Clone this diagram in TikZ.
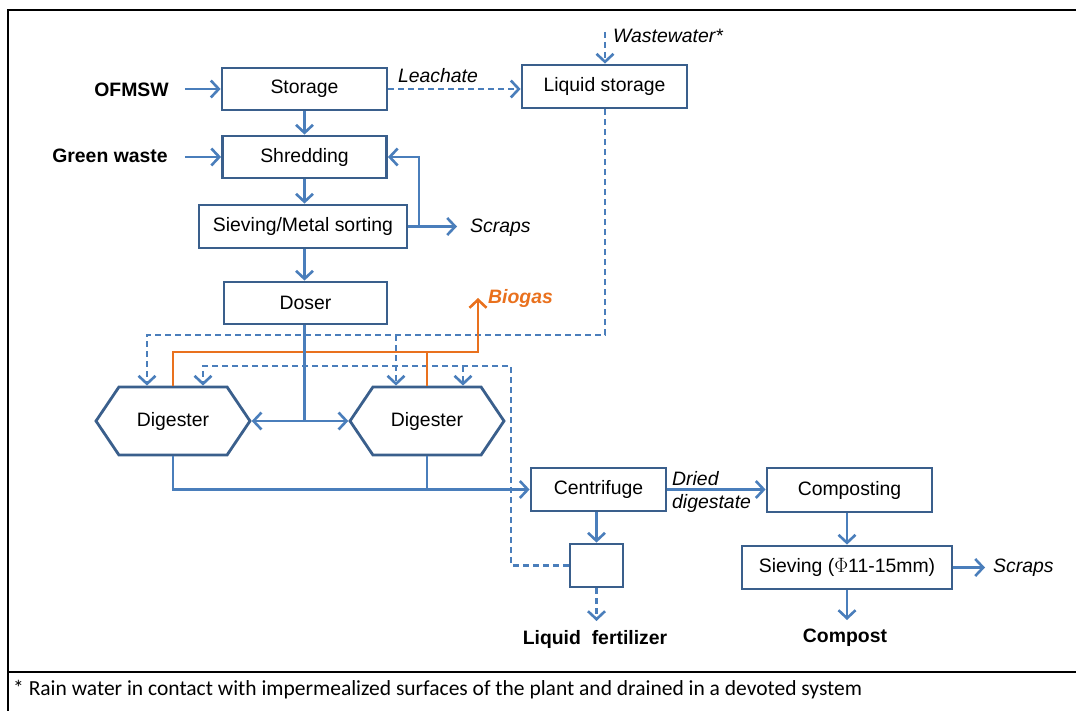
\documentclass[tikz,border=0pt]{standalone}
\usepackage{fontspec}
\setmainfont{Liberation Sans}
\newfontfamily\calib{Carlito}
\usetikzlibrary{arrows.meta,shapes.symbols,calc}
\definecolor{boxc}{RGB}{58,95,140}
\definecolor{linec}{RGB}{74,126,187}
\definecolor{orng}{RGB}{233,113,30}
\begin{document}
\begin{tikzpicture}[x=1pt,y=-1pt,
  mf/.style={font=\fontsize{19.4}{23}\selectfont},
  box/.style={mf, draw=boxc, line width=2.8pt, fill=white, minimum height=42pt, inner sep=0pt},
  dig/.style={mf, draw=boxc, line width=2.8pt, fill=white, signal, signal to=east and west,
    signal pointer angle=112, minimum width=154pt, minimum height=68pt, inner sep=0pt},
  lbl/.style={mf, inner sep=0pt},
  ln/.style={draw=linec, line width=2.5pt},
  arr/.style={ln, -{Straight Barb[length=8pt,width=17pt,line width=2.6pt]}},
  dsh/.style={ln, dash pattern=on 6pt off 4pt},
  darr/.style={arr, dash pattern=on 6pt off 4pt},
  oarr/.style={draw=orng, line width=2.6pt, -{Straight Barb[length=8pt,width=17pt,line width=2.6pt]}},
  frame/.style={draw=black, line width=2pt}]
\useasboundingbox (0,0) rectangle (1076,711);
% frame
\draw[frame] (1076,10) -- (8,10) -- (8,711);
\draw[frame] (8,672) -- (1076,672);

% boxes
\node[box, minimum width=165pt] (storage) at (304.5,89) {Storage};
\node[box, minimum width=164pt] (shred) at (304.5,157) {Shredding};
\node[box, minimum width=208pt, minimum height=43pt] (sieve) at (303,226.5) {Sieving/Metal sorting};
\node[box, minimum width=163pt] (doser) at (305.5,303) {Doser};
\node[box, minimum width=165pt, minimum height=43pt] (liqst) at (604.5,86.5) {Liquid storage};
\node[dig] (dig1) at (173,421) {Digester};
\node[dig] (dig2) at (427,421) {Digester};
\node[box, minimum width=135pt, minimum height=43pt] (centr) at (598.5,489.5) {Centrifuge};
\node[box, minimum width=53pt, minimum height=43pt] (small) at (596.5,565.5) {};
\node[box, minimum width=165pt, minimum height=44pt] (compo) at (849.5,490) {Composting};
\node[box, minimum width=210pt, minimum height=43pt] (sieve2) at (847,567.5) {Sieving ($\Phi$11-15mm)};

% labels
\node[lbl, font=\fontsize{19.4}{23}\selectfont\bfseries] (ofmsw) at (131.5,90) {OFMSW};
\node[lbl, font=\fontsize{19.4}{23}\selectfont\bfseries] (green) at (110,156) {Green waste};
\node[lbl, anchor=west, font=\fontsize{19.4}{23}\selectfont\itshape] (scraps1) at (470,228) {Scraps};
\node[lbl, anchor=west, font=\fontsize{19.4}{23}\selectfont\itshape] (scraps2) at (993,568) {Scraps};
\node[lbl, anchor=west, font=\fontsize{19.4}{23}\selectfont\itshape] (ww) at (613,36) {Wastewater*};
\node[lbl, font=\fontsize{19.4}{23}\selectfont\itshape] (leach) at (438,76) {Leachate};
\node[lbl, anchor=west, text=orng, font=\fontsize{19.4}{23}\selectfont\bfseries\itshape] (biogas) at (488,298) {Biogas};
\node[lbl, anchor=west, align=left, font=\fontsize{19.4}{23}\selectfont\itshape] (dried) at (672,491.5) {Dried\\digestate};
\node[lbl, font=\fontsize{19.4}{23}\selectfont\bfseries] (liqf) at (595,639) {Liquid\ \ fertilizer};
\node[lbl, font=\fontsize{19.4}{23}\selectfont\bfseries] (compost) at (845,638) {Compost};
\node[lbl, anchor=west, font=\calib\fontsize{21.5}{24}\selectfont] (fn) at (13,690) {* Rain water in contact with impermealized surfaces of the plant and drained in a devoted system};

% helper coordinates
\coordinate (wwtop) at (605,32);
\coordinate (dA) at (147,335);
\coordinate (dAj) at (396,335);
\coordinate (oT) at (478,352);
\coordinate (dB) at (511,366);
\coordinate (dBj) at (463,366);
\coordinate (loop) at (419,226.5);
\coordinate (lfend) at (596.5,621);
\coordinate (cpend) at (847,620);
\coordinate (dv) at (304.5,303);

% main line
\draw[arr] ([xshift=16pt]storage.west -| ofmsw.east) -- (storage.west);
\draw[arr] ([xshift=17pt]shred.west -| green.east) -- (shred.west);
\draw[arr] (storage.south) -- (storage.south |- shred.north);
\draw[arr] (shred.south) -- (shred.south |- sieve.north);
\draw[arr] (sieve.east) -- ([xshift=-13pt]sieve.east -| scraps1.west);
\draw[arr] (sieve.east -| loop) |- (shred.east);
\draw[arr] (dv |- sieve.south) -- (dv |- doser.north);
\draw[darr] (storage.east) -- (storage.east -| liqst.west);
\draw[darr] (wwtop) -- (wwtop |- liqst.north);

% liquid recirculation
\draw[darr] (wwtop |- liqst.south) |- (dA) -- (dA |- dig1.north);
\draw[darr] (dAj) -- (dAj |- dig2.north);
\draw[darr] (small.west) -| (dB) -| ([xshift=30pt]dig1.north);
\draw[darr] (dBj) -- (dBj |- dig2.north);

% biogas
\draw[oarr] (dig1.north) |- (oT) -- (oT |- biogas.west);
\draw[draw=orng, line width=2.6pt] (dig2.north) -- (dig2.north |- oT);

% doser to digesters
\draw[arr] (dv |- doser.south) -- (dv |- dig1.east) -- (dig1.east);
\draw[arr] (dv |- dig2.west) -- (dig2.west);

% digestate
\draw[arr] (dig1.south) |- (centr.west);
\draw[ln] (dig2.south) -- (dig2.south |- centr.west);
\draw[arr] (lfend |- centr.south) -- (small.north);
\draw[darr] (small.south) -- (lfend);
\draw[arr] (centr.east) -- (centr.east -| compo.west);
\draw[arr] (cpend |- compo.south) -- (sieve2.north);
\draw[arr] (sieve2.east) -- ([xshift=-8pt]sieve2.east -| scraps2.west);
\draw[arr] (sieve2.south) -- (cpend);
\end{tikzpicture}
\end{document}
